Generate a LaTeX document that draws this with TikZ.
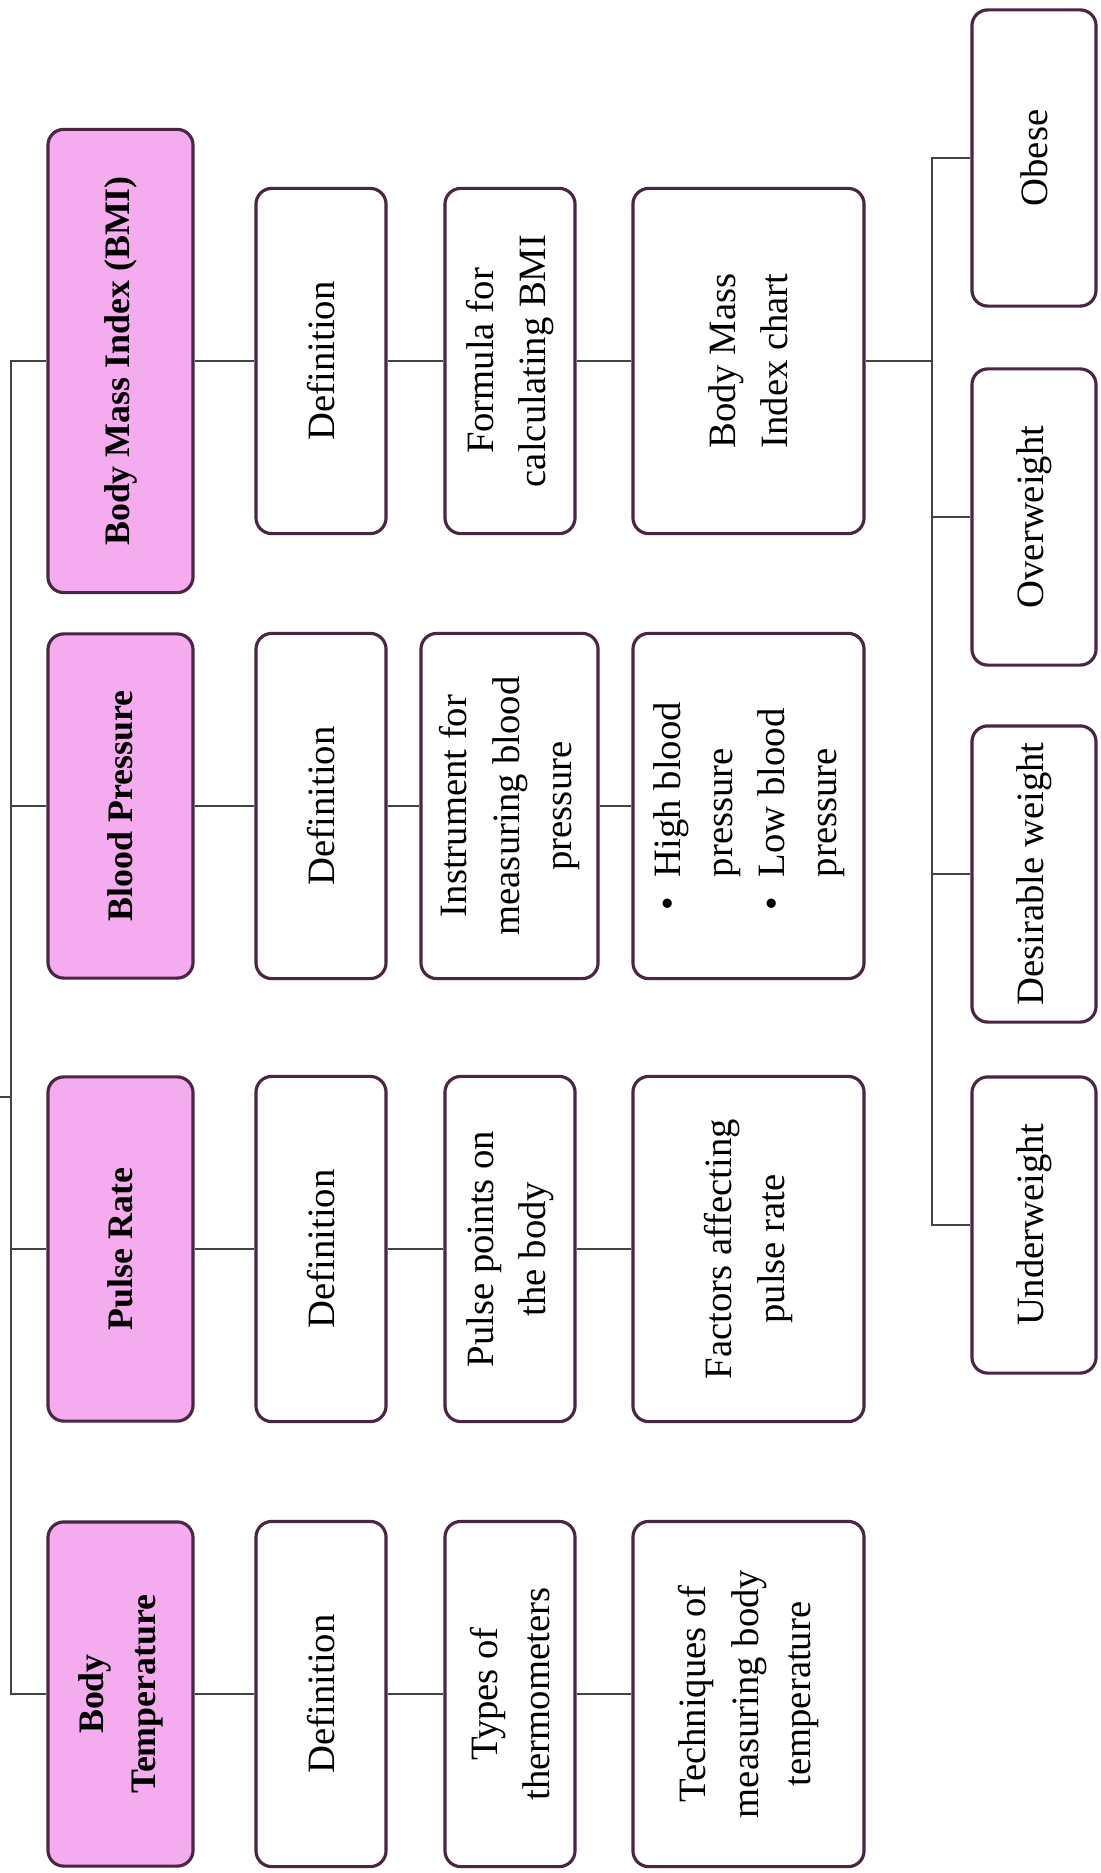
\documentclass[tikz,border=0pt]{standalone}
\usepackage{fontspec}
\setmainfont{Liberation Serif}
\definecolor{HeadPink}{RGB}{245,172,238}
\definecolor{BoxEdge}{RGB}{75,38,68}
\definecolor{LinkGray}{RGB}{62,70,62}

\begin{document}
\begin{tikzpicture}[x=0.01cm,y=-0.01cm,font=\fontsize{11}{14.8}\selectfont,
	cell/.style={draw=BoxEdge,line width=0.9pt,rounded corners=4.5pt,fill=white,
		rotate=90,align=center,inner sep=2pt,minimum width=3.45cm},
	head/.style={cell,fill=HeadPink,font=\fontsize{10.2}{14.8}\selectfont\bfseries,minimum height=1.45cm},
	slim/.style={cell,minimum height=1.3cm},
	broad/.style={cell,minimum height=2.31cm},
	weight/.style={cell,minimum width=2.96cm,minimum height=1.24cm},
	link/.style={LinkGray,line width=0.8pt}]
	\useasboundingbox (0,0) rectangle (1100,1873);
	\fill[white] (0,0) rectangle (1100,1873);
	
	% Judul cabang
	\node[head,minimum width=4.63cm] (bmi) at (120.5,361) {Body Mass Index (BMI)};
	\node[head,minimum width=3.44cm] (bp) at (120.5,806) {Blood Pressure};
	\node[head,minimum width=3.44cm] (pr) at (120.5,1249) {Pulse Rate};
	\node[head,minimum width=3.44cm] (bt) at (120.5,1694) {Body\\Temperature};
	
	% Body Mass Index
	\node[slim] (bmidef) at (321,361) {Definition};
	\node[slim] (bmiform) at (510,361) {Formula for\\calculating BMI};
	\node[broad] (bmichart) at (748.5,361) {Body Mass\\Index chart};
	
	% Blood Pressure
	\node[slim] (bpdef) at (321,806) {Definition};
	\node[cell,minimum height=1.77cm] (bpinst) at (509.5,806) {Instrument for\\measuring blood\\pressure};
	\node[broad] (bpkind) at (748.5,806)
	{\begin{tabular}{@{}l@{\ \ }l@{}}
			\textbullet & High blood\\ & pressure\\
			\textbullet & Low blood\\ & pressure
	\end{tabular}};
	
	% Pulse Rate
	\node[slim] (prdef) at (321,1249) {Definition};
	\node[slim] (prpoint) at (510,1249) {Pulse points on\\the body};
	\node[broad] (prfact) at (748.5,1249) {Factors affecting\\pulse rate};
	
	% Body Temperature
	\node[slim] (btdef) at (321,1694) {Definition};
	\node[slim] (bttype) at (510,1694) {Types of\\thermometers};
	\node[broad] (bttech) at (748.5,1694) {Techniques of\\measuring body\\temperature};
	
	% Kategori berat badan
	\node[weight] (obese) at (1034,158) {Obese};
	\node[weight] (over) at (1034,517) {Overweight};
	\node[weight] (desir) at (1034,874) {Desirable weight};
	\node[weight] (under) at (1034,1225) {Underweight};
	
	% Garis penghubung
	\coordinate (root) at (0,1097);
	\coordinate (trunk) at (11,1097);
	\coordinate (fork) at (932,361);
	\draw[link] (root) -- (trunk);
	\foreach \h in {bmi,bp,pr,bt}
	\draw[link] (trunk) |- (\h);
	\foreach \a/\b in {bmi/bmidef,bmidef/bmiform,bmiform/bmichart,
		bp/bpdef,bpdef/bpinst,bpinst/bpkind,
		pr/prdef,prdef/prpoint,prpoint/prfact,
		bt/btdef,btdef/bttype,bttype/bttech}
	\draw[link] (\a) -- (\b);
	\draw[link] (bmichart) -- (fork);
	\foreach \w in {obese,over,desir,under}
	\draw[link] (fork) |- (\w);
\end{tikzpicture}
\end{document}
